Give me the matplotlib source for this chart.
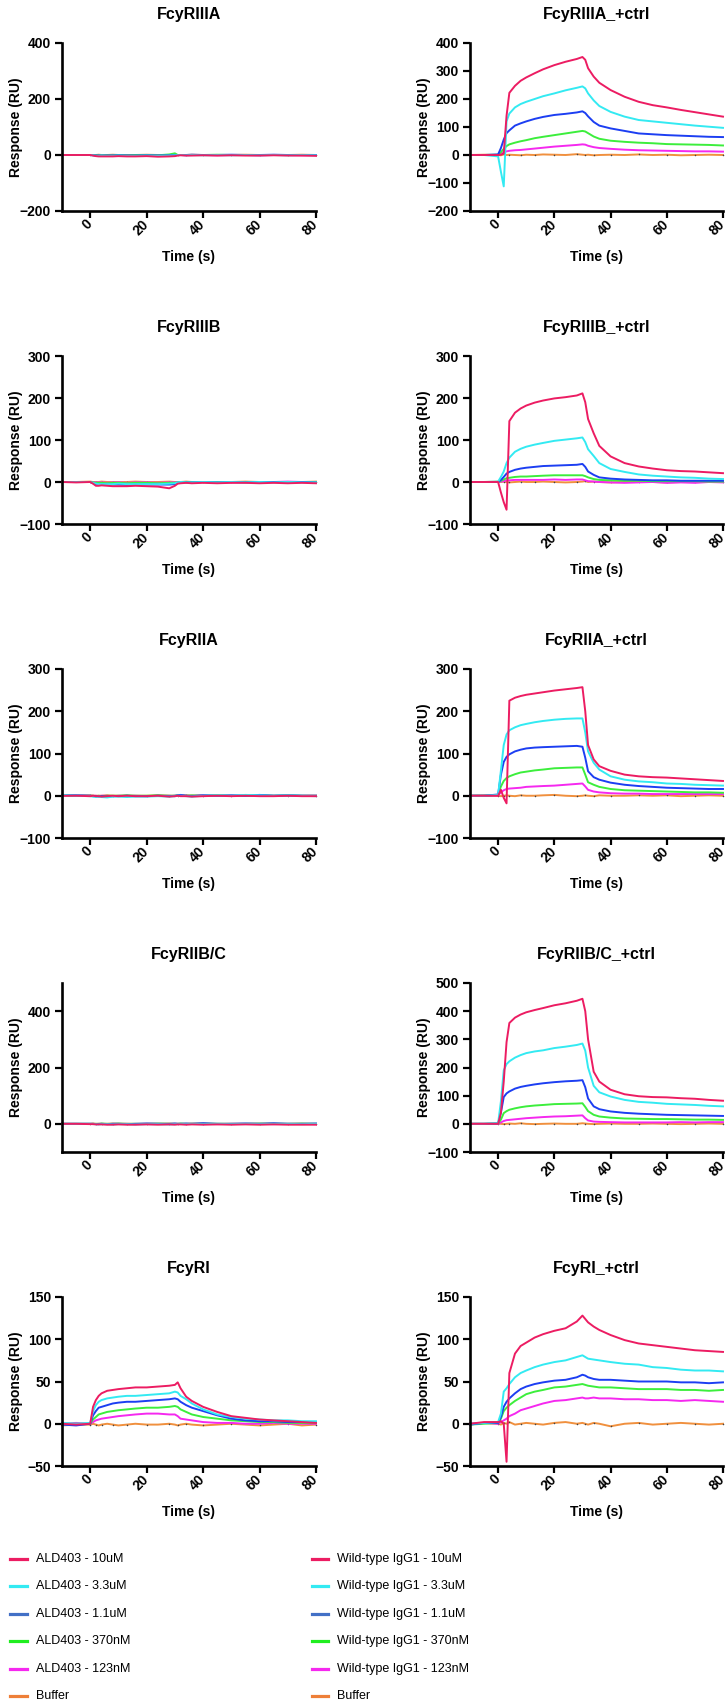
"""
SPR sensorgrams: ALD403 vs wild-type IgG1 on Fc gamma receptors.
"""

import matplotlib as mpl

mpl.use("Agg")

import matplotlib.pyplot as plt
from matplotlib.lines import Line2D


TIME = [-10, -5, 0, 1, 2, 3, 4, 6, 8, 10, 13, 16, 20, 24, 28, 30,
        31, 32, 34, 36, 40, 45, 50, 55, 60, 65, 70, 75, 80]

CONCENTRATIONS = ["10uM", "3.3uM", "1.1uM", "370nM", "123nM", "Buffer"]

# each panel: 10uM, 3.3uM, 1.1uM, 370nM, 123nM, buffer
FCGR3A_ALD = [
    [0, 0, 0, -2, -4, -5, -5, -5, -5, -4, -5, -5, -4, -6, -5, -4, -2, -1, -2, -2, -1, -2, -1, -2, -2, -1, -2, -2, -3],
    [0, 0, 0, -1, -3, -3, -2, -3, -3, -2, -3, -3, -2, -3, -2, -1, 0, 0, -1, 0, -1, 0, -1, 0, -1, 0, -1, 0, -1],
    [0, 0, 0, -1, -2, -2, -2, -2, -2, -1, -2, -2, -1, -2, -1, 0, 0, 0, 0, 1, 0, 0, 1, 0, 0, 1, 0, 0, 0],
    [0, 0, 0, 0, -1, -1, -1, -1, -1, 0, -1, 0, 0, -1, 2, 6, 0, 0, 0, 0, 0, 1, 0, 0, 0, 0, 0, 0, 0],
    [0, 0, 0, 0, -1, -1, -1, -1, 0, -1, 0, -1, 0, -1, 0, 0, 0, 0, -1, 0, 0, -1, 0, 0, -1, 0, 0, -1, 0],
    [0, 0, 0, 0, 0, 1, 0, 0, 1, 0, 0, 0, 1, 0, 0, 1, 0, 0, 0, 1, 0, 0, 0, 1, 0, 0, 0, 1, 0],
]
FCGR3A_CTRL = [
    [0, 0, 0, 1, 5, 140, 222, 247, 265, 277, 292, 306, 321, 333, 343, 350, 340, 310, 280, 258, 232, 208, 190, 178, 170, 161, 153, 145, 137],
    [0, 0, -5, -60, -112, 120, 148, 170, 182, 190, 200, 210, 220, 231, 240, 245, 238, 220, 195, 175, 154, 137, 125, 120, 115, 110, 105, 101, 97],
    [0, 0, 2, 25, 55, 78, 88, 105, 113, 120, 129, 136, 143, 147, 152, 156, 150, 138, 118, 105, 95, 86, 77, 74, 71, 69, 67, 65, 64],
    [0, 0, 1, 10, 22, 32, 38, 44, 49, 53, 60, 65, 71, 77, 83, 86, 84, 78, 66, 58, 51, 47, 44, 42, 39, 38, 37, 36, 34],
    [0, 0, 0, 5, 10, 13, 15, 17, 18, 20, 23, 26, 30, 33, 36, 38, 37, 33, 28, 25, 22, 19, 17, 16, 15, 14, 13, 13, 12],
    [0, 1, 0, -1, 2, 0, 1, 0, -1, 1, 0, 2, 1, 0, 3, 1, 0, 1, -1, 0, 1, 0, 2, 0, 1, -1, 0, 1, 0],
]
FCGR3B_ALD = [
    [0, -1, 0, -4, -9, -9, -8, -9, -10, -10, -10, -9, -10, -11, -15, -9, -4, -3, -2, -3, -2, -3, -2, -2, -3, -2, -3, -2, -3],
    [0, 0, 0, -2, -4, -5, -5, -5, -5, -4, -5, -5, -5, -5, -4, -3, -1, 0, -1, -1, 0, -1, 0, -1, 0, -1, 0, -1, -1],
    [0, 0, 0, -3, -5, -6, -6, -6, -6, -6, -7, -6, -6, -6, -6, -5, -2, -1, -1, -1, 0, -1, 0, -1, 0, 0, -1, 0, -1],
    [0, 0, 0, -1, -2, -2, -2, -3, -2, -2, -3, -2, -2, -3, -2, -2, -1, 0, 0, 0, 0, 0, 0, 0, 0, 0, 0, 0, 0],
    [0, 0, 0, -1, -1, -1, -1, -2, -1, -1, -2, -1, -1, -2, -1, -1, 0, 0, 0, 0, 0, 0, -1, 0, 0, 0, 1, 0, 0],
    [0, 0, 1, 0, 0, 0, 1, 0, 0, 0, 0, 1, 0, 0, 1, 0, 0, 0, 1, 0, 0, 0, 0, 1, 0, 0, 0, 0, 1],
]
FCGR3B_CTRL = [
    [0, 0, 0, -25, -48, -66, 145, 165, 175, 182, 189, 194, 199, 202, 206, 211, 190, 150, 116, 86, 61, 45, 37, 32, 28, 26, 25, 23, 21],
    [0, 0, 1, 12, 25, 45, 58, 72, 79, 84, 89, 93, 98, 101, 104, 106, 95, 78, 62, 45, 31, 24, 18, 15, 13, 11, 10, 8, 7],
    [0, 0, 0, 5, 12, 20, 24, 29, 32, 34, 36, 38, 39, 40, 41, 43, 36, 25, 17, 11, 8, 6, 5, 4, 4, 3, 3, 3, 3],
    [0, 0, 0, 3, 6, 9, 10, 12, 13, 13, 14, 15, 16, 16, 16, 16, 14, 11, 7, 5, 4, 3, 3, 2, 2, 2, 2, 1, 1],
    [0, 0, 0, 1, 2, 4, 4, 5, 5, 5, 5, 5, 6, 5, 6, 6, 4, 2, 1, 0, -1, -2, -1, 0, -2, -1, -2, 0, -1],
    [0, 0, 1, 0, 1, 0, -1, 0, 1, 0, 0, 1, 0, -1, 0, 1, 2, 0, 1, 0, -1, 0, 1, 0, -1, 0, 1, 0, 0],
]
FCGR2A_ALD = [
    [0, 0, -1, 0, -1, -1, -2, -1, 0, -1, 0, -1, -1, 0, -2, -1, 0, -1, -1, -2, -1, 0, -1, 0, -1, -1, 0, -1, -1],
    [2, 0, -1, -2, -3, -2, -3, -4, -2, -2, -3, -2, -2, -1, -2, -1, 0, 0, -1, -2, 0, 1, 0, 2, 1, 0, 1, 0, -1],
    [2, 1, 0, -1, -1, -2, -1, -2, -1, -1, 0, -1, -1, 0, -1, 0, 1, 2, 0, -1, 1, 0, 1, 0, 2, 0, 1, 0, 0],
    [1, 0, 0, 0, -1, 0, -1, 0, 0, 0, 1, 0, 0, 1, 0, 0, 1, 0, 0, 1, 0, 1, 0, 0, 1, 0, 1, 0, 0],
    [0, 0, 0, 0, 0, -1, 0, 0, -1, 0, 0, 0, -1, 0, 0, -1, 0, 0, 0, 0, 1, 0, 0, 1, 0, 0, 1, 0, 0],
    [0, 0, 1, 0, 0, 0, 0, 1, 0, 0, 0, 0, 0, 1, 0, 0, 0, 0, 1, 0, 0, 0, 0, 0, 1, 0, 0, 0, 0],
]
FCGR2A_CTRL = [
    [0, 0, 0, 14, -5, -18, 225, 232, 236, 239, 242, 245, 249, 252, 255, 257, 200, 120, 86, 70, 59, 50, 46, 44, 43, 41, 39, 37, 35],
    [0, 0, 2, 60, 120, 145, 155, 162, 167, 170, 174, 177, 180, 182, 183, 183, 150, 105, 78, 62, 46, 38, 34, 32, 29, 28, 26, 25, 24],
    [0, 0, 3, 50, 80, 92, 98, 105, 109, 112, 114, 115, 116, 117, 118, 116, 90, 58, 44, 38, 31, 26, 23, 21, 19, 18, 17, 16, 16],
    [0, 0, 2, 22, 35, 42, 46, 51, 55, 57, 60, 62, 65, 66, 67, 67, 50, 32, 26, 21, 16, 13, 12, 11, 10, 9, 8, 8, 7],
    [0, 0, 1, 8, 13, 16, 17, 18, 19, 21, 22, 23, 24, 26, 28, 29, 22, 14, 10, 8, 6, 5, 5, 4, 4, 4, 4, 4, 4],
    [0, 1, 0, -1, 0, 1, 0, -1, 1, 0, 0, 1, 2, 0, -1, 0, 1, 0, -1, 1, 0, 0, 1, 0, 1, -1, 0, 1, 0],
]
FCGR2BC_ALD = [
    [0, 0, -1, -1, -2, -2, -2, -3, -3, -2, -3, -3, -2, -3, -2, -3, -2, -2, -3, -2, -3, -2, -3, -2, -3, -2, -3, -3, -3],
    [0, 0, 0, -1, -1, -2, -1, -1, -2, -1, -1, -2, -1, -1, -2, -1, -1, 0, -1, 0, -1, 0, -1, 0, -1, 0, 0, -1, 0],
    [0, 0, 0, 0, -1, -1, 0, -1, 0, 0, -1, 0, 1, 0, 0, 1, 0, 0, 1, 0, 2, 0, 0, 1, 0, 2, 0, 0, 1],
    [0, 0, 0, 0, 0, 0, 1, 0, 0, 1, 0, 0, 0, 1, 0, 0, 0, 1, 0, 0, 1, 0, 0, 0, 1, 0, 0, 1, 0],
    [0, 0, 0, 0, -1, 0, 0, -1, 0, 0, 0, -1, 0, 0, -1, 0, 0, 0, -1, 0, 0, -1, 0, 0, 0, -1, 0, 0, -1],
    [0, 0, 0, 1, 0, 0, 0, 0, 1, 0, 0, 0, 0, 0, 1, 0, 0, 0, 0, 1, 0, 0, 0, 0, 0, 1, 0, 0, 0],
]
FCGR2BC_CTRL = [
    [0, 0, 0, 40, 150, 290, 358, 377, 388, 396, 404, 411, 421, 428, 437, 444, 400, 300, 185, 150, 121, 105, 98, 95, 94, 91, 89, 85, 82],
    [0, 0, 2, 80, 190, 212, 222, 235, 244, 251, 257, 261, 269, 274, 280, 285, 260, 200, 135, 112, 97, 85, 78, 75, 71, 69, 67, 64, 62],
    [0, 0, 1, 40, 95, 108, 115, 125, 131, 135, 140, 144, 148, 151, 153, 155, 130, 90, 62, 52, 44, 39, 36, 34, 32, 31, 30, 29, 28],
    [0, 0, 1, 15, 38, 45, 50, 55, 59, 62, 65, 67, 70, 71, 72, 73, 60, 45, 32, 26, 22, 19, 18, 17, 17, 16, 15, 15, 14],
    [0, 0, 0, 5, 10, 13, 14, 16, 18, 20, 22, 24, 26, 27, 29, 30, 20, 12, 8, 7, 6, 5, 5, 5, 5, 6, 5, 6, 6],
    [0, 0, 1, 0, -1, 0, 1, 0, 2, 0, -1, 0, 1, 0, 0, 2, 1, 0, -1, 0, 1, 0, 0, 1, 0, -1, 0, 1, 0],
]
FCGR1_ALD = [
    [0, -1, 0, 20, 28, 33, 36, 39, 40, 41, 42, 43, 43, 44, 45, 46, 49, 42, 32, 27, 20, 14, 9, 7, 5, 4, 3, 2, 1],
    [1, 0, 1, 15, 22, 26, 28, 30, 31, 32, 33, 33, 34, 35, 36, 38, 37, 33, 29, 24, 17, 11, 8, 6, 5, 4, 4, 3, 3],
    [-1, -2, 0, 10, 15, 19, 20, 22, 24, 25, 26, 26, 27, 28, 29, 30, 29, 26, 22, 19, 15, 10, 6, 4, 3, 3, 2, 2, 2],
    [0, 0, 0, 5, 8, 11, 12, 14, 15, 16, 17, 18, 19, 19, 20, 21, 20, 17, 14, 11, 8, 6, 4, 3, 2, 2, 1, 1, 1],
    [0, 1, 0, 2, 4, 5, 6, 7, 8, 9, 10, 11, 12, 12, 11, 11, 9, 6, 5, 4, 2, 1, 1, 0, 0, 1, 0, 0, 0],
    [-2, -1, -1, 0, -1, -2, -1, 0, -1, -2, -1, 0, -1, -1, 0, -1, -2, -1, 0, -1, -2, -1, 0, -1, -2, -1, 0, -2, -1],
]
FCGR1_CTRL = [
    [0, 2, 2, 3, 0, -45, 60, 83, 92, 96, 102, 106, 110, 113, 121, 128, 124, 120, 115, 111, 105, 99, 95, 93, 91, 89, 87, 86, 85],
    [0, 1, 2, 12, 38, 42, 47, 55, 60, 63, 67, 70, 73, 75, 79, 81, 79, 77, 76, 75, 73, 71, 70, 67, 66, 64, 63, 63, 62],
    [-1, 1, 1, 8, 20, 26, 30, 36, 41, 44, 47, 49, 51, 52, 55, 58, 57, 55, 53, 52, 52, 51, 50, 50, 50, 49, 49, 48, 49],
    [-1, 0, 1, 6, 15, 19, 22, 27, 31, 35, 38, 40, 43, 44, 46, 47, 46, 45, 44, 43, 43, 42, 41, 41, 41, 40, 40, 39, 40],
    [0, 1, 0, 2, 4, 6, 9, 12, 16, 18, 21, 24, 27, 28, 30, 31, 30, 30, 31, 30, 30, 29, 29, 28, 28, 27, 28, 27, 26],
    [0, 1, 0, -1, 1, 0, 2, -1, 0, 1, 0, -1, 1, 2, 0, 1, 0, -1, 1, 0, -3, 0, 1, -1, 0, 1, 0, -1, 0],
]

LINE_COLORS = ["#ec1c62", "#33eaf2", "#1c3ef2", "#3cee3c", "#f528ef", "#f0903e"]
LEGEND_COLORS = ["#ec1c62", "#33eaf2", "#4270c6", "#20ee20", "#f528ef", "#ee7f38"]

# (title, data, ylim, yticks) row by row, left then right
PANELS = [
    ("FcyRIIIA", FCGR3A_ALD, (-200, 400), [-200, 0, 200, 400]),
    ("FcyRIIIA_+ctrl", FCGR3A_CTRL, (-200, 400), list(range(-200, 401, 100))),
    ("FcyRIIIB", FCGR3B_ALD, (-100, 300), list(range(-100, 301, 100))),
    ("FcyRIIIB_+ctrl", FCGR3B_CTRL, (-100, 300), list(range(-100, 301, 100))),
    ("FcyRIIA", FCGR2A_ALD, (-100, 300), list(range(-100, 301, 100))),
    ("FcyRIIA_+ctrl", FCGR2A_CTRL, (-100, 300), list(range(-100, 301, 100))),
    ("FcyRIIB/C", FCGR2BC_ALD, (-100, 500), [0, 200, 400]),
    ("FcyRIIB/C_+ctrl", FCGR2BC_CTRL, (-100, 500), list(range(-100, 501, 100))),
    ("FcyRI", FCGR1_ALD, (-50, 150), list(range(-50, 151, 50))),
    ("FcyRI_+ctrl", FCGR1_CTRL, (-50, 150), list(range(-50, 151, 50))),
]

W, H = 725, 1707
COL_X = [(62, 316), (470, 723)]
ROW_Y = [(43, 211), (356, 524), (669, 838), (983, 1152), (1297, 1466)]

plt.rcParams["font.family"] = ["Liberation Sans", "DejaVu Sans"]
plt.rcParams["font.weight"] = "bold"

fig = plt.figure(figsize=(W / 100, H / 100), dpi=100)

for index, (title, data, ylim, yticks) in enumerate(PANELS):
    row, col = divmod(index, 2)
    x0, x1 = COL_X[col]
    y0, y1 = ROW_Y[row]
    ax = fig.add_axes([x0 / W, 1 - y1 / H, (x1 - x0) / W, (y1 - y0) / H])
    for series in reversed(range(len(data))):
        assert len(data[series]) == len(TIME)
        style = {}
        if series == 5:
            style = dict(marker=".", markersize=2.2, markevery=2,
                         markerfacecolor="#444444", markeredgecolor="none")
        ax.plot(TIME, data[series], color=LINE_COLORS[series], lw=1.4,
                clip_on=False, **style)
    ax.set_xlim(-10, 80)
    ax.set_ylim(*ylim)
    ax.set_xticks([0, 20, 40, 60, 80])
    ax.set_yticks(yticks)
    for side in ("top", "right"):
        ax.spines[side].set_visible(False)
    for side in ("left", "bottom"):
        ax.spines[side].set_linewidth(1.9)
    ax.tick_params(direction="out", length=5, width=1.6, labelsize=10, pad=3)
    for label in ax.get_xticklabels():
        label.set_rotation(45)
        label.set_ha("right")
        label.set_va("center")
        label.set_rotation_mode("anchor")
        label.set_fontweight("bold")
    for label in ax.get_yticklabels():
        label.set_fontweight("bold")
    ax.set_title(title, fontsize=11.5, fontweight="bold", pad=17)
    ax.set_xlabel("Time (s)", fontsize=10, fontweight="bold")
    ax.set_ylabel("Response (RU)", fontsize=10, fontweight="bold")
    ax.xaxis.set_label_coords(0.5, -39 / (y1 - y0))
    ax.yaxis.set_label_coords(-39 / (x1 - x0), 0.5)

# legends below the last row
legend_sets = [
    ("ALD403 - ", 10, 27, 36),
    ("Wild-type IgG1 - ", 312, 328, 337),
]
for prefix, lx0, lx1, tx in legend_sets:
    for i, name in enumerate(CONCENTRATIONS):
        y = 1559 + i * 27.4
        text = name if name == "Buffer" else prefix + name
        fig.add_artist(Line2D([lx0 / W, lx1 / W], [1 - y / H, 1 - y / H],
                              transform=fig.transFigure,
                              color=LEGEND_COLORS[i], lw=2.3))
        fig.text(tx / W, 1 - y / H, text, fontsize=9, fontweight="normal",
                 ha="left", va="center")

fig.savefig("out.png", dpi=100)
plt.close(fig)
